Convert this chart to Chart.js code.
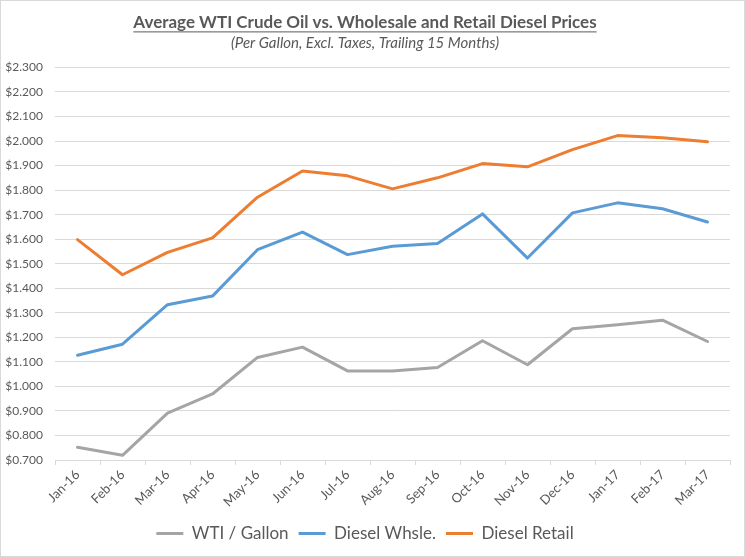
<!DOCTYPE html>
<html>
<head>
<meta charset="utf-8">
<script src="https://cdn.jsdelivr.net/npm/chart.js@4"></script>
<style>
    html, body { margin: 0; padding: 0; background: #fff; }
    #wrap { width: 745px; height: 557px; position: relative; }
</style>
</head>
<body>
<div id="wrap"><canvas id="line-chart"></canvas></div>
<script>
const months = ["Jan-16", "Feb-16", "Mar-16", "Apr-16", "May-16", "Jun-16", "Jul-16", "Aug-16",
    "Sep-16", "Oct-16", "Nov-16", "Dec-16", "Jan-17", "Feb-17", "Mar-17"];

const wtiPerGallon = [0.752, 0.719, 0.891, 0.969, 1.118, 1.160, 1.063, 1.063,
    1.077, 1.186, 1.088, 1.235, 1.251, 1.270, 1.183];
const dieselWholesale = [1.127, 1.172, 1.333, 1.368, 1.557, 1.629, 1.537, 1.571,
    1.582, 1.703, 1.523, 1.707, 1.748, 1.724, 1.670];
const dieselRetail = [1.598, 1.455, 1.546, 1.605, 1.771, 1.878, 1.858, 1.805,
    1.850, 1.908, 1.895, 1.965, 2.022, 2.013, 1.997];

const seriesNames = ["WTI / Gallon", "Diesel Whsle.", "Diesel Retail"];
const seriesColors = ["#a5a5a5", "#5b9bd5", "#ed7d31"];

const textColor = "#595959";
const gridColor = "#d9d9d9";
const fontFamily = "Lato, 'Open Sans', sans-serif";

// underline under the main title + frame around the whole chart
const titleUnderline = {
    id: "titleUnderline",
    afterDraw(chart) {
        const ctx = chart.ctx;
        const t = chart.titleBlock;
        ctx.save();
        ctx.font = "bold 17px " + fontFamily;
        const w = ctx.measureText(chart.options.plugins.title.text).width;
        const cx = (t.left + t.right) / 2;
        const y = t.top + t.height - 0.5;
        ctx.strokeStyle = textColor;
        ctx.lineWidth = 1;
        ctx.beginPath();
        ctx.moveTo(cx - w / 2, y);
        ctx.lineTo(cx + w / 2, y);
        ctx.stroke();
        ctx.strokeStyle = gridColor;
        ctx.strokeRect(0.5, 0.5, chart.width - 1, chart.height - 1);
        ctx.restore();
    },
};

const makeDataset = (i, values) => ({
    label: seriesNames[i],
    data: values,
    borderColor: seriesColors[i],
    backgroundColor: seriesColors[i],
    borderWidth: 3,
    pointRadius: 0,
    tension: 0,
    borderJoinStyle: "round",
    borderCapStyle: "round",
});

const chart = new Chart(document.getElementById("line-chart"), {
    type: "line",
    data: {
        labels: months,
        datasets: [
            makeDataset(0, wtiPerGallon),
            makeDataset(1, dieselWholesale),
            makeDataset(2, dieselRetail),
        ],
    },
    options: {
        responsive: true,
        maintainAspectRatio: false,
        animation: false,
        layout: { padding: { left: 0, right: 15, top: 0, bottom: 5 } },
        scales: {
            x: {
                offset: true,
                afterFit: (scale) => { scale.height = 55; },
                grid: {
                    offset: true,
                    drawOnChartArea: false,
                    drawTicks: true,
                    tickLength: 5,
                    color: gridColor,
                },
                border: { display: true, color: gridColor },
                ticks: {
                    color: textColor,
                    font: { family: fontFamily, size: 13 },
                    maxRotation: 45,
                    minRotation: 45,
                    autoSkip: false,
                    padding: 2,
                },
            },
            y: {
                min: 0.7,
                max: 2.3,
                afterFit: (scale) => { scale.width = 55; },
                grid: { color: gridColor, drawTicks: false },
                border: { display: false },
                ticks: {
                    stepSize: 0.1,
                    color: textColor,
                    font: { family: fontFamily, size: 12 },
                    padding: 12,
                    callback: (v) => "$" + Number(v).toFixed(3),
                },
            },
        },
        plugins: {
            title: {
                display: true,
                text: "Average WTI Crude Oil vs. Wholesale and Retail Diesel Prices",
                color: textColor,
                font: { family: fontFamily, size: 17, weight: "bold" },
                padding: { top: 12, bottom: 0 },
            },
            subtitle: {
                display: true,
                text: "(Per Gallon, Excl. Taxes, Trailing 15 Months)",
                color: textColor,
                font: { family: fontFamily, size: 15, style: "italic" },
                padding: { top: 2, bottom: 15 },
            },
            legend: {
                display: true,
                position: "bottom",
                labels: {
                    usePointStyle: true,
                    pointStyle: "line",
                    pointStyleWidth: 27,
                    color: textColor,
                    font: { family: fontFamily, size: 17 },
                    padding: 10,
                },
            },
            tooltip: { enabled: false },
        },
    },
    plugins: [titleUnderline],
});
</script>
</body>
</html>
